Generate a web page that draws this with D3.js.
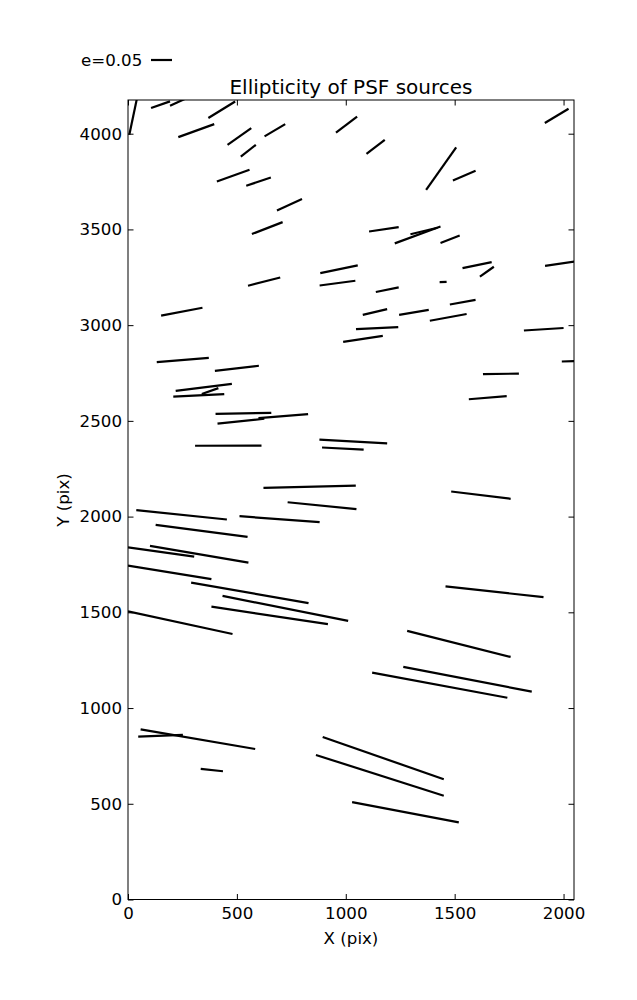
<!DOCTYPE html>
<html><head><meta charset="utf-8">
<script src="https://cdn.jsdelivr.net/npm/d3@7"></script>
<style>
body{margin:0;background:#fff}
svg{display:block}
text{font-family:"DejaVu Sans",sans-serif;fill:#000}
</style>
</head><body>
<svg id="chart" width="637" height="1000"></svg>
<script>
// Segment endpoints (pixel coordinates of the CCD)
const segX0 = [6,106,193,369,231,457,518,627,408,543,684,569,551,152,955,1095,1107,1225,1297,883,880,1138,1914,1369,1492,1435,1536,1616,1431,1915,1478,1078,1245,1386,1047,988,1818,1992,1630,1565,1484,132,399,219,208,339,402,411,599,308,622,879,891,38,512,733,127,0,101,0,290,434,383,0,1458,1282,1264,1121,58,47,334,894,863,1029];
const segY0 = [3994,4134,4146,4082,3982,3942,3880,3986,3750,3728,3599,3476,3206,3050,4006,3895,3489,3427,3475,3272,3207,3173,4056,3707,3756,3429,3298,3253,3225,3310,3108,3054,3054,3023,2979,2913,2972,2810,2744,2613,2131,2807,2761,2657,2627,2640,2537,2486,2514,2370,2150,2402,2361,2034,2002,2075,1957,1839,1847,1744,1655,1586,1530,1505,1636,1403,1215,1185,889,851,682,849,755,509];
const segX1 = [44,193,262,492,396,566,587,722,558,656,799,710,699,342,1052,1179,1243,1435,1421,1055,1044,1243,2023,1507,1596,1523,1670,1680,1463,2060,1596,1190,1381,1555,1241,1170,2000,2060,1795,1739,1757,371,601,477,442,415,658,626,827,613,1046,1190,1082,454,880,1049,549,304,553,383,829,1011,918,480,1908,1757,1854,1742,584,252,436,1450,1450,1519];
const segY1 = [4200,4169,4182,4168,4050,4029,3942,4050,3812,3771,3659,3538,3249,3091,4089,3968,3512,3515,3509,3312,3232,3197,4130,3928,3806,3468,3329,3305,3226,3334,3132,3084,3080,3058,2990,2944,2985,2812,2747,2629,2093,2829,2788,2693,2640,2671,2542,2511,2535,2371,2162,2382,2350,1985,1971,2039,1894,1791,1760,1673,1548,1455,1438,1387,1579,1267,1086,1054,786,860,670,628,542,403];

const xTicks = [0,500,1000,1500,2000];
const yTicks = [0,500,1000,1500,2000,2500,3000,3500,4000];
const xDomain = [0,2048];
const yDomain = [0,4176];
const legendE = 0.05;
const legendLabel = "e=0.05";
const titleText = "Ellipticity of PSF sources";
const xLabel = "X (pix)";
const yLabel = "Y (pix)";

const svg = d3.select("#chart");
const L = 128, R = 574, T = 100, B = 899.5;
const x = d3.scaleLinear().domain(xDomain).range([L, R]);
const y = d3.scaleLinear().domain(yDomain).range([B, T]);
const eScale = d3.scaleLinear().domain([0, 0.05]).range([0, 21]);

svg.append("defs").append("clipPath").attr("id","clip")
  .append("rect").attr("x",L).attr("y",T).attr("width",R-L).attr("height",B-T);

const segs = segX0.map((d,i)=>({x0:d,y0:segY0[i],x1:segX1[i],y1:segY1[i]}));
svg.append("g").attr("clip-path","url(#clip)")
  .selectAll("line").data(segs).join("line")
  .attr("x1",d=>x(d.x0)).attr("y1",d=>y(d.y0))
  .attr("x2",d=>x(d.x1)).attr("y2",d=>y(d.y1))
  .attr("stroke","#000").attr("stroke-width",2.2).attr("stroke-linecap","butt");

const fs = "16.67px";
function styleAxis(g){
  g.select(".domain").remove();
  g.selectAll(".tick line").attr("stroke","#000").attr("stroke-width",1);
  g.selectAll(".tick text").attr("font-size",fs).attr("font-family","DejaVu Sans").attr("fill","#000");
}
svg.append("g").attr("transform",`translate(0,${B})`)
  .call(d3.axisBottom(x).tickValues(xTicks).tickSize(-5.5).tickPadding(8).tickFormat(d3.format("d")))
  .call(styleAxis);
svg.append("g").attr("transform",`translate(0,${T})`)
  .call(d3.axisTop(x).tickValues(xTicks).tickSize(-5.5).tickFormat(""))
  .call(styleAxis);
svg.append("g").attr("transform",`translate(${L},0)`)
  .call(d3.axisLeft(y).tickValues(yTicks).tickSize(-5.5).tickPadding(6).tickFormat(d3.format("d")))
  .call(styleAxis);
svg.append("g").attr("transform",`translate(${R},0)`)
  .call(d3.axisRight(y).tickValues(yTicks).tickSize(-5.5).tickFormat(""))
  .call(styleAxis);

svg.append("rect").attr("x",L).attr("y",T).attr("width",R-L).attr("height",B-T)
  .attr("fill","none").attr("stroke","#000").attr("stroke-width",1);

svg.append("text").attr("x",(L+R)/2).attr("y",94).attr("text-anchor","middle")
  .attr("font-size","20px").text(titleText);
svg.append("text").attr("x",(L+R)/2).attr("y",944).attr("text-anchor","middle")
  .attr("font-size",fs).text(xLabel);
svg.append("text").attr("transform","translate(69,500) rotate(-90)").attr("text-anchor","middle")
  .attr("font-size",fs).text(yLabel);

svg.append("text").attr("x",81).attr("y",66).attr("font-size",fs).text(legendLabel);
svg.append("line").attr("x1",151).attr("x2",151+eScale(legendE)).attr("y1",60).attr("y2",60)
  .attr("stroke","#000").attr("stroke-width",2.2);
</script>
</body></html>
